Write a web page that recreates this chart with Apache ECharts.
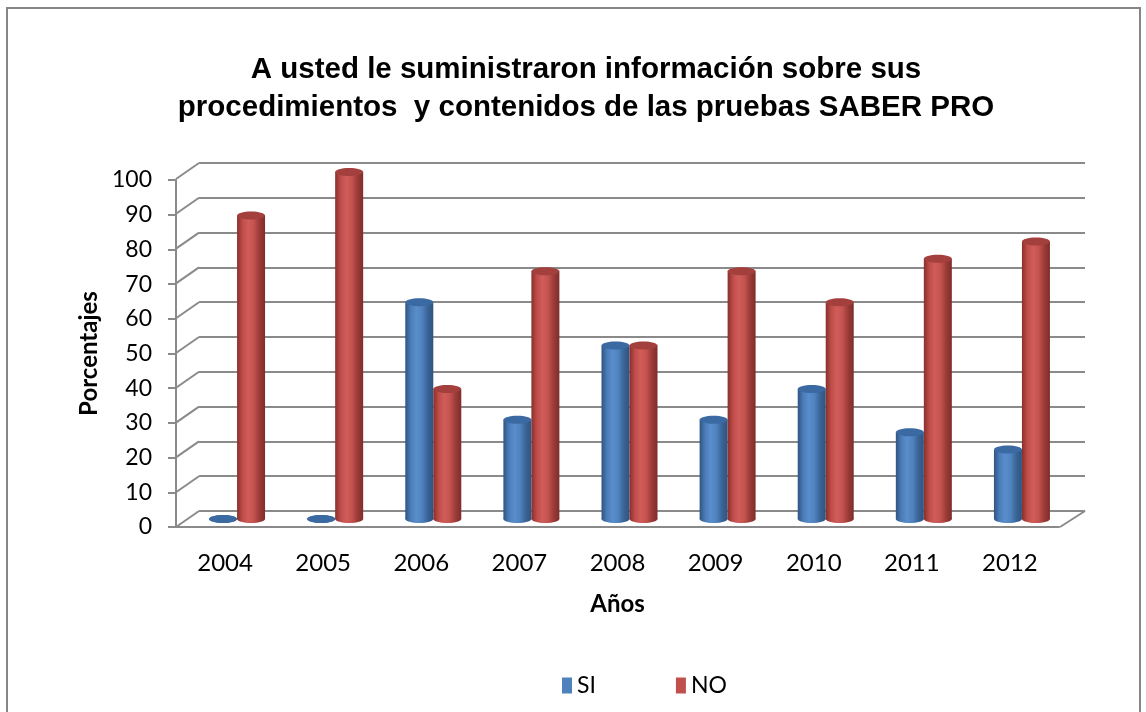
<!DOCTYPE html>
<html>
<head>
<meta charset="utf-8">
<script src="https://cdn.jsdelivr.net/npm/echarts@6/dist/echarts.min.js"></script>
<style>
  html, body { margin: 0; padding: 0; background: #fff; }
  #chart { width: 1146px; height: 712px; }
</style>
</head>
<body>
<div id="chart"></div>
<script>
// data
var years = ['2004', '2005', '2006', '2007', '2008', '2009', '2010', '2011', '2012']
var siValues = [0, 0, 62.5, 28.6, 50, 28.6, 37.5, 25, 20]
var noValues = [87.5, 100, 37.5, 71.4, 50, 71.4, 62.5, 75, 80]
var yTicks = [0, 10, 20, 30, 40, 50, 60, 70, 80, 90, 100]

var labelFont = 'Lato, "Open Sans", sans-serif'
var gridGray = '#8a8a8a'
var depthX = 23
var depthY = 16

function shade(stops) {
  return new echarts.graphic.LinearGradient(0, 0, 1, 0, stops.map(function (c, i) {
    return { offset: i / (stops.length - 1), color: c }
  }))
}

var blueBody = ['#30547f', '#4a7dba', '#5a8ecb', '#4f82bf', '#3a6496', '#2f5380']
var redBody = ['#86302d', '#c04d49', '#d05d59', '#c4524e', '#9b3b38', '#7f2d2a']

function cylinder(body, cap, side) {
  return function (params, api) {
    var top = api.coord([api.value(0), api.value(1)])
    var base = api.coord([api.value(0), 0])
    var bw = 28
    var x = top[0] + (side < 0 ? -bw : 0)
    var cx = x + bw / 2
    return {
      type: 'group',
      children: [
        { type: 'ellipse', shape: { cx: cx, cy: base[1], rx: bw / 2, ry: 4 }, style: { fill: shade(body) } },
        { type: 'rect', shape: { x: x, y: top[1], width: bw, height: base[1] - top[1] }, style: { fill: shade(body) } },
        { type: 'ellipse', shape: { cx: cx, cy: top[1], rx: bw / 2, ry: 4 }, style: { fill: cap } }
      ]
    }
  }
}

var chart = echarts.init(document.getElementById('chart'))

chart.setOption({
  backgroundColor: '#fff',
  animation: false,
  graphic: [{
    type: 'rect',
    z: -10,
    shape: { x: 7, y: 8, width: 1133, height: 730 },
    style: { fill: 'none', stroke: '#868686', lineWidth: 2 }
  }],
  title: {
    text: 'A usted le suministraron información sobre sus\nprocedimientos  y contenidos de las pruebas SABER PRO',
    left: 581,
    top: 46,
    textAlign: 'center',
    textStyle: {
      fontFamily: '"Liberation Sans", Arial, sans-serif',
      fontSize: 29.5,
      fontWeight: 'bold',
      color: '#000',
      lineHeight: 38
    }
  },
  legend: {
    data: ['SI', 'NO'],
    left: 557,
    top: 669,
    icon: 'rect',
    itemWidth: 10,
    itemHeight: 16,
    itemGap: 80,
    textStyle: { fontFamily: labelFont, fontSize: 23, color: '#000' }
  },
  grid: [
    // back wall
    { left: 199, right: 61, top: 163, bottom: 201 },
    // front axis
    { left: 176, right: 87, top: 180, bottom: 185 },
    // bars at mid depth
    { left: 188, right: 75, top: 172, bottom: 193 }
  ],
  xAxis: [
    { gridIndex: 0, type: 'value', min: 0, max: 1, show: false },
    {
      gridIndex: 1,
      type: 'category',
      data: years,
      name: 'Años',
      nameLocation: 'middle',
      nameGap: 65,
      nameTextStyle: { fontFamily: labelFont, fontSize: 24, fontWeight: 'bold', color: '#000' },
      axisLine: { show: true, lineStyle: { color: gridGray, width: 2 } },
      axisTick: { show: false },
      axisLabel: { margin: 24, fontFamily: labelFont, fontSize: 24, color: '#000' }
    },
    { gridIndex: 2, type: 'category', data: years, show: false }
  ],
  yAxis: [
    {
      gridIndex: 0,
      type: 'value',
      min: 0,
      max: 100,
      interval: 10,
      axisLine: { show: false },
      axisTick: { show: false },
      axisLabel: { show: false },
      splitLine: { show: true, lineStyle: { color: gridGray, width: 2 } }
    },
    {
      gridIndex: 1,
      type: 'value',
      min: 0,
      max: 100,
      interval: 10,
      name: 'Porcentajes',
      nameLocation: 'middle',
      nameGap: 75,
      nameTextStyle: { fontFamily: labelFont, fontSize: 24, fontWeight: 'bold', color: '#000' },
      axisLine: { show: true, lineStyle: { color: gridGray, width: 2 } },
      axisTick: { show: true, length: 8, lineStyle: { color: gridGray, width: 2 } },
      axisLabel: { margin: 24, fontFamily: labelFont, fontSize: 23, color: '#000' },
      splitLine: { show: false }
    },
    { gridIndex: 2, type: 'value', min: 0, max: 100, show: false }
  ],
  series: [
    {
      // side wall and floor edges joining front axis to back wall
      type: 'custom',
      xAxisIndex: 0,
      yAxisIndex: 0,
      silent: true,
      z: 1,
      data: yTicks.map(function (v) { return [0, v] }),
      renderItem: function (params, api) {
        var p = api.coord([0, api.value(1)])
        var lines = [{
          type: 'line',
          shape: { x1: p[0] - depthX, y1: p[1] + depthY, x2: p[0], y2: p[1] },
          style: { stroke: gridGray, lineWidth: 2 }
        }]
        if (api.value(1) === 0) {
          var q = api.coord([1, 0])
          lines.push({
            type: 'line',
            shape: { x1: q[0] - depthX - 2, y1: q[1] + depthY, x2: q[0], y2: q[1] },
            style: { stroke: gridGray, lineWidth: 2 }
          })
        }
        return { type: 'group', children: lines }
      }
    },
    {
      name: 'SI',
      type: 'custom',
      xAxisIndex: 2,
      yAxisIndex: 2,
      z: 5,
      itemStyle: { color: '#4F81BD' },
      data: years.map(function (y, i) { return [i, siValues[i]] }),
      renderItem: cylinder(blueBody, '#3b6aa3', -1)
    },
    {
      name: 'NO',
      type: 'custom',
      xAxisIndex: 2,
      yAxisIndex: 2,
      z: 5,
      itemStyle: { color: '#C0504D' },
      data: years.map(function (y, i) { return [i, noValues[i]] }),
      renderItem: cylinder(redBody, '#a3403d', 1)
    }
  ]
})
</script>
</body>
</html>
